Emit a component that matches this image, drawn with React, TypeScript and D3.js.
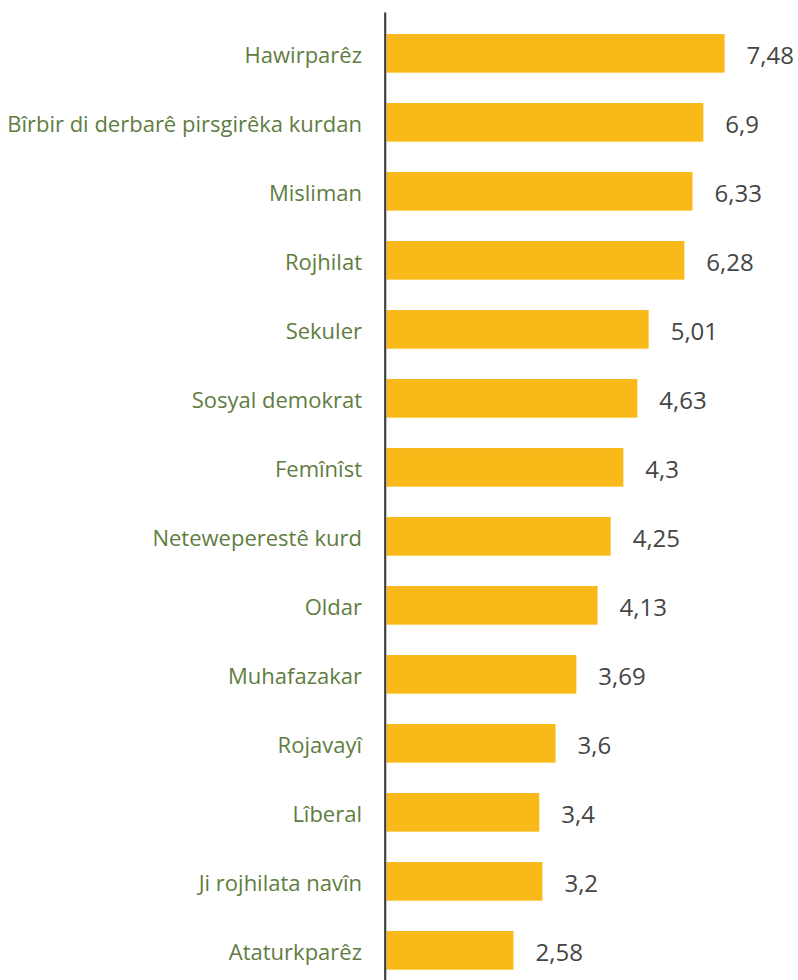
import React from "react";
import * as d3 from "d3";

const categories = [
  "Hawirparêz",
  "Bîrbir di derbarê pirsgirêka kurdan",
  "Misliman",
  "Rojhilat",
  "Sekuler",
  "Sosyal demokrat",
  "Femînîst",
  "Neteweperestê kurd",
  "Oldar",
  "Muhafazakar",
  "Rojavayî",
  "Lîberal",
  "Ji rojhilata navîn",
  "Ataturkparêz",
];

// bar lengths as drawn in the picture
const barValues = [7.48, 7.01, 6.77, 6.59, 5.8, 5.55, 5.24, 4.96, 4.67, 4.2, 3.74, 3.38, 3.45, 2.81];

// data labels as printed
const valueLabels = ["7,48", "6,9", "6,33", "6,28", "5,01", "4,63", "4,3", "4,25", "4,13", "3,69", "3,6", "3,4", "3,2", "2,58"];

const W = 798;
const H = 980;

export default function App() {
  const x = d3.scaleLinear().domain([0, 8]).range([386.5, 386.5 + 8 * 45.2]);
  const y = d3
    .scaleBand<string>()
    .domain(categories)
    .range([18.85, 18.85 + categories.length * 69])
    .paddingInner(0.44)
    .paddingOuter(0.22);

  return (
    <svg
      width={W}
      height={H}
      style={{ position: "absolute", left: 0, top: 0, background: "#fff" }}
      fontFamily="'Open Sans', sans-serif"
    >
      {categories.map((c, i) => {
        const yy = y(c)!;
        const bw = y.bandwidth();
        return (
          <g key={c}>
            <rect x={x(0)} y={yy} width={x(barValues[i]) - x(0)} height={bw} fill="#F9B918" />
            <text
              x={362}
              y={yy + bw / 2 + 0.5}
              textAnchor="end"
              dominantBaseline="central"
              fontSize={22}
              fill="#5F7D41"
            >
              {c}
            </text>
            <text
              x={x(barValues[i]) + 22}
              y={yy + bw / 2 + 0.8}
              dominantBaseline="central"
              fontSize={24}
              fill="#454545"
            >
              {valueLabels[i]}
            </text>
          </g>
        );
      })}
      <line x1={385.2} x2={385.2} y1={12.5} y2={H} stroke="#404040" strokeWidth={2.2} />
    </svg>
  );
}
